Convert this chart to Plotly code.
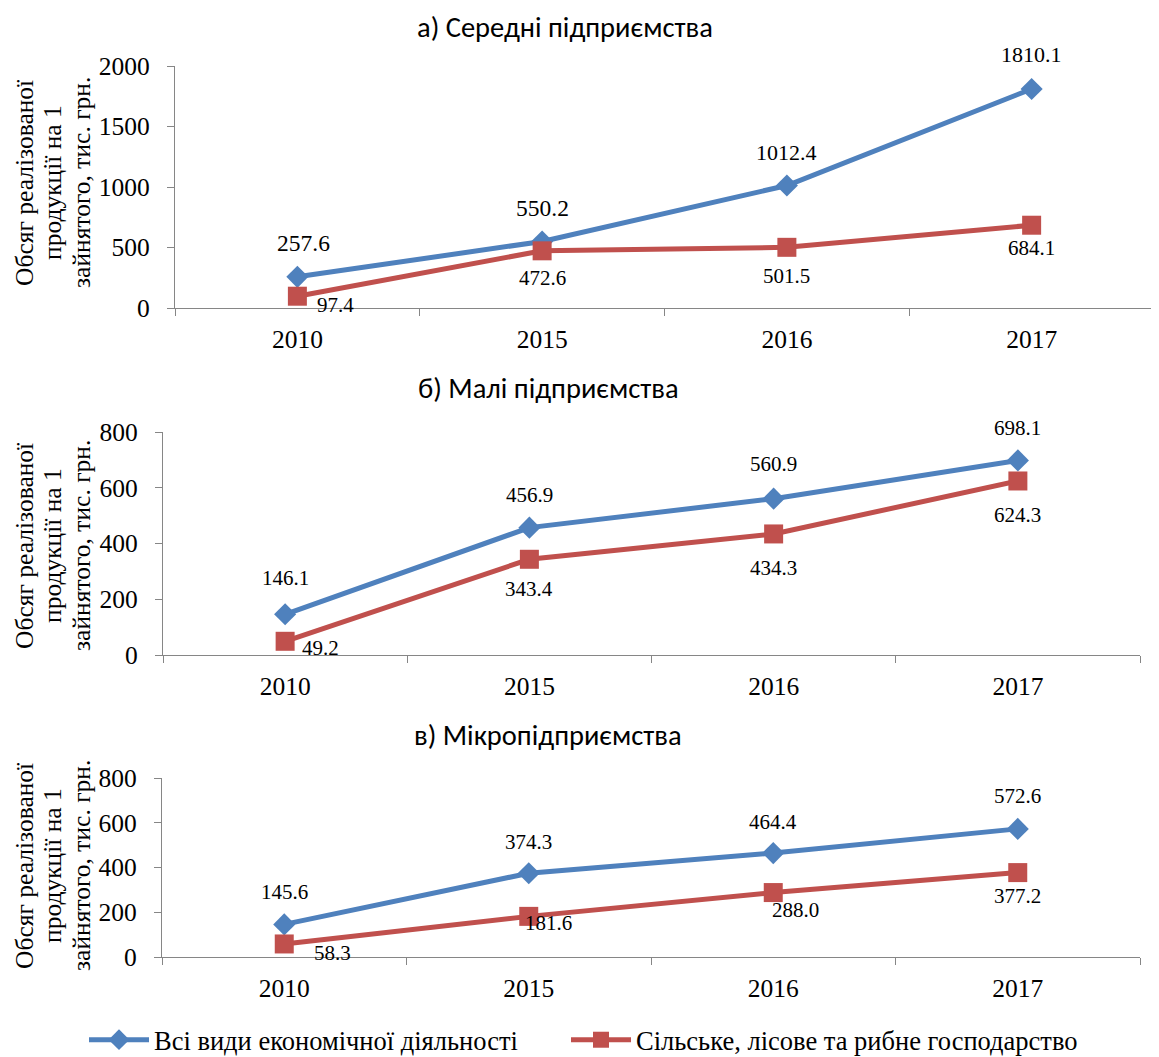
import plotly.graph_objects as go

# page body has an 8px margin; figure is sized so that it fills the window
OFF = 8
W, H = 1159 - OFF, 1057 - OFF

years = ["2010", "2015", "2016", "2017"]
series_names = ["Всі види економічної діяльності", "Сільське, лісове та рибне господарство"]

medium_all = [257.6, 550.2, 1012.4, 1810.1]
medium_agri = [97.4, 472.6, 501.5, 684.1]
small_all = [146.1, 456.9, 560.9, 698.1]
small_agri = [49.2, 343.4, 434.3, 624.3]
micro_all = [145.6, 374.3, 464.4, 572.6]
micro_agri = [58.3, 181.6, 288.0, 377.2]

titles = ["а) Середні підприємства", "б) Малі підприємства", "в) Мікропідприємства"]
y_title_lines = ["Обсяг реалізованої", "продукції на 1", "зайнятого, тис. грн."]

BLUE = "#4F81BD"
RED = "#C0504D"
AX = "#868686"
SERIF = "Liberation Serif"
SANS = "Carlito"


def px(v):
    return (v - OFF) / W


def py(v):
    return 1 - (v - OFF) / H


# panel geometry in window pixels: x0, x1, ytop, ybottom
panels = [
    dict(x0=175, x1=1154, yt=66, yb=308, rng=[0, 2000], dtick=500,
         all=medium_all, agri=medium_agri, title_xy=(565, 27), ytitle_y=183,
         lbl=[23.5, 23.5, 22, 22], lbl_r=[21, 21, 21, 21],
         blue_off=[(6, -34), (0, -33), (0, -33), (0, -34)],
         red_off=[(38, 9), (0, 27), (0, 29), (0, 23)]),
    dict(x0=163, x1=1140, yt=432, yb=655, rng=[0, 800], dtick=200,
         all=small_all, agri=small_agri, title_xy=(548, 388), ytitle_y=546,
         lbl=[21, 21, 21, 21], lbl_r=[21, 21, 21, 21],
         blue_off=[(0, -36), (0, -33), (0, -35), (0, -32)],
         red_off=[(35, 7), (0, 30), (0, 34), (0, 34)]),
    dict(x0=162, x1=1140, yt=778, yb=957, rng=[0, 800], dtick=200,
         all=micro_all, agri=micro_agri, title_xy=(548, 735), ytitle_y=866,
         lbl=[21, 21, 21, 21], lbl_r=[21, 21, 21, 21],
         blue_off=[(0, -32), (0, -31), (0, -31), (0, -33)],
         red_off=[(48, 9), (20, 7), (22, 17), (0, 23)]),
]
ytitle_x = [24, 52, 81]

fig = go.Figure()
annotations = []
layout = {}

for i, p in enumerate(panels, start=1):
    xa = "x" if i == 1 else f"x{i}"
    ya = "y" if i == 1 else f"y{i}"
    fig.add_trace(go.Scatter(
        x=years, y=p["all"], xaxis=xa, yaxis=ya, mode="lines+markers",
        name=series_names[0], legend="legend", showlegend=(i == 1),
        line=dict(color=BLUE, width=5),
        marker=dict(symbol="diamond", size=17, color=BLUE),
    ))
    fig.add_trace(go.Scatter(
        x=years, y=p["agri"], xaxis=xa, yaxis=ya, mode="lines+markers",
        name=series_names[1], legend="legend2", showlegend=(i == 1),
        line=dict(color=RED, width=5),
        marker=dict(symbol="square", size=19, color=RED),
    ))
    xkey = "xaxis" if i == 1 else f"xaxis{i}"
    ykey = "yaxis" if i == 1 else f"yaxis{i}"
    layout[xkey] = dict(
        domain=[px(p["x0"]), px(p["x1"])], anchor=ya, type="category",
        showline=True, linecolor=AX, linewidth=1.3, ticks="outside",
        tickcolor=AX, ticklen=7, tickson="boundaries", showgrid=False,
        tickfont=dict(family=SERIF, size=25.5, color="#000"),
        ticklabelstandoff=8,
        range=[-0.5, 3.5], automargin=False,
    )
    layout[ykey] = dict(
        domain=[py(p["yb"]), py(p["yt"])], anchor=xa,
        range=p["rng"], dtick=p["dtick"], showline=True, linecolor=AX,
        linewidth=1.3, ticks="outside", tickcolor=AX, ticklen=7,
        showgrid=False, zeroline=False, automargin=False,
        ticklabelstandoff=12,
        tickfont=dict(family=SERIF, size=25.5, color="#000"),
    )
    annotations.append(dict(
        text=titles[i - 1], x=px(p["title_xy"][0]), y=py(p["title_xy"][1]),
        xref="paper", yref="paper", showarrow=False, xanchor="center",
        yanchor="middle", font=dict(family=SANS, size=28.5, color="#000"),
    ))
    for k, line in enumerate(y_title_lines):
        annotations.append(dict(
            text=line, x=px(ytitle_x[k]), y=py(p["ytitle_y"]), xref="paper",
            yref="paper", showarrow=False, textangle=-90, xanchor="center",
            yanchor="middle", font=dict(family=SERIF, size=25.5, color="#000"),
        ))
    for j, yr in enumerate(years):
        dx, dy = p["blue_off"][j]
        annotations.append(dict(
            text=f"{p['all'][j]:.1f}", x=j, y=p["all"][j], xref=xa, yref=ya,
            showarrow=False, xshift=dx, yshift=-dy,
            font=dict(family=SERIF, size=p["lbl"][j], color="#000"),
        ))
        dx, dy = p["red_off"][j]
        annotations.append(dict(
            text=f"{p['agri'][j]:.1f}", x=j, y=p["agri"][j], xref=xa, yref=ya,
            showarrow=False, xshift=dx, yshift=-dy,
            font=dict(family=SERIF, size=p["lbl_r"][j], color="#000"),
        ))

legend_common = dict(orientation="h", xanchor="left", yanchor="middle",
                     font=dict(family=SERIF, size=26.5, color="#000"),
                     itemwidth=60, bgcolor="rgba(0,0,0,0)")

fig.update_layout(
    width=W, height=H, margin=dict(l=0, r=0, t=0, b=0, autoexpand=False),
    paper_bgcolor="white", plot_bgcolor="white",
    annotations=annotations,
    legend=dict(x=px(84), y=py(1040), **legend_common),
    legend2=dict(x=px(566), y=py(1040), **legend_common),
    **layout,
)

fig.write_html("out.html")
